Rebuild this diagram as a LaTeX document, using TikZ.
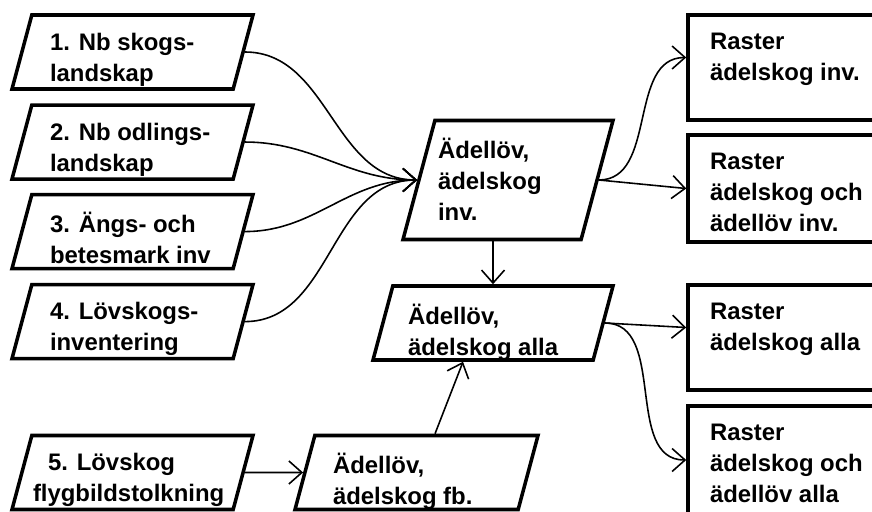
\documentclass[tikz,border=0pt]{standalone}
\usepackage{fontspec}
\setmainfont{Liberation Sans}
\usetikzlibrary{shapes.geometric, arrows.meta, positioning}
\newcommand{\boxtext}[3]{\parbox[t][#2][t]{#1}{#3}}

\begin{document}
\begin{tikzpicture}[
  font=\bfseries\fontsize{13.6}{17.6}\selectfont,
  inbox/.style={draw, line width=2pt, trapezium, trapezium left angle=75, trapezium right angle=105, trapezium stretches body, inner xsep=0pt, inner ysep=0.36cm, minimum width=4.82cm, minimum height=1.48cm},
  raster/.style={draw, line width=2pt, rectangle, inner xsep=0pt, inner ysep=0.36cm, minimum width=4.24cm, minimum height=2.1cm},
  ptr/.style={-{Straight Barb[length=2.6mm, width=4.6mm]}, line width=0.9pt}
]
  \useasboundingbox (0,0) rectangle (17.44,-10.22);
  \clip (0,0) rectangle (17.44,-10.22);
  % inventories
  \node[inbox] (b1) at (2.65,-1.04) {\boxtext{3.3cm}{0.76cm}{1. Nb skogs-\\landskap}};
  \node[inbox, below=0.25cm of b1] (b2) {\boxtext{3.3cm}{0.76cm}{2. Nb odlings-\\landskap}};
  \node[inbox, below=0.24cm of b2] (b3) {\boxtext{3.3cm}{0.76cm}{3. Ängs- och\\betesmark~inv}};
  \node[inbox, below=0.25cm of b3] (b4) {\boxtext{3.3cm}{0.76cm}{4. Lövskogs-\\inventering}};
  \node[inbox] (b5) at (2.65,-9.45) {\boxtext{3.98cm}{0.76cm}{\hspace*{0.3cm}5. Lövskog\\flygbildstolkning}};
  % merged layers
  \node[inbox, minimum width=4.2cm, minimum height=2.38cm] (c1) at (10.16,-3.6) {\boxtext{2.8cm}{1.66cm}{Ädellöv,\\ädelskog\\inv.}};
  \node[inbox, minimum width=4.8cm] (c2) at (9.86,-6.46) {\boxtext{3.4cm}{0.76cm}{Ädellöv,\\ädelskog~alla}};
  \node[inbox, minimum width=4.86cm] (c3) at (8.33,-9.45) {\boxtext{3.34cm}{0.76cm}{Ädellöv,\\ädelskog~fb.}};
  % rasters
  \node[raster] (r1) at (15.88,-1.35) {\boxtext{3.36cm}{1.38cm}{Raster\\ädelskog~inv.}};
  \node[raster, below=0.23cm of r1, minimum height=2.14cm] (r2) {\boxtext{3.36cm}{1.42cm}{Raster\\ädelskog~och\\ädellöv~inv.}};
  \node[raster] (r3) at (15.88,-6.75) {\boxtext{3.36cm}{1.38cm}{Raster\\ädelskog~alla}};
  \node[raster, below=0.25cm of r3, minimum height=2.16cm] (r4) {\boxtext{3.36cm}{1.44cm}{Raster\\ädelskog~och\\ädellöv~alla}};
  % connectors
  \foreach \b in {b1,b2,b3,b4}
    \draw[ptr] (\b.east) to[out=0, in=180] (c1.west);
  \draw[ptr] (b5.east) -- (c3.west);
  \draw[ptr] (c1.south -| c2.north) -- (c2.north);
  \draw[ptr] ([xshift=0.37cm]c3.north) -- ([xshift=-0.6cm]c2.south);
  \draw[ptr] (c1.east) to[out=0, in=180] ([yshift=0.2cm]r1.west);
  \draw[ptr] (c1.east) -- (r2.west);
  \draw[ptr] (c2.east) -- ([yshift=0.2cm]r3.west);
  \draw[ptr] (c2.east) to[out=0, in=180] (r4.west);
\end{tikzpicture}
\end{document}
